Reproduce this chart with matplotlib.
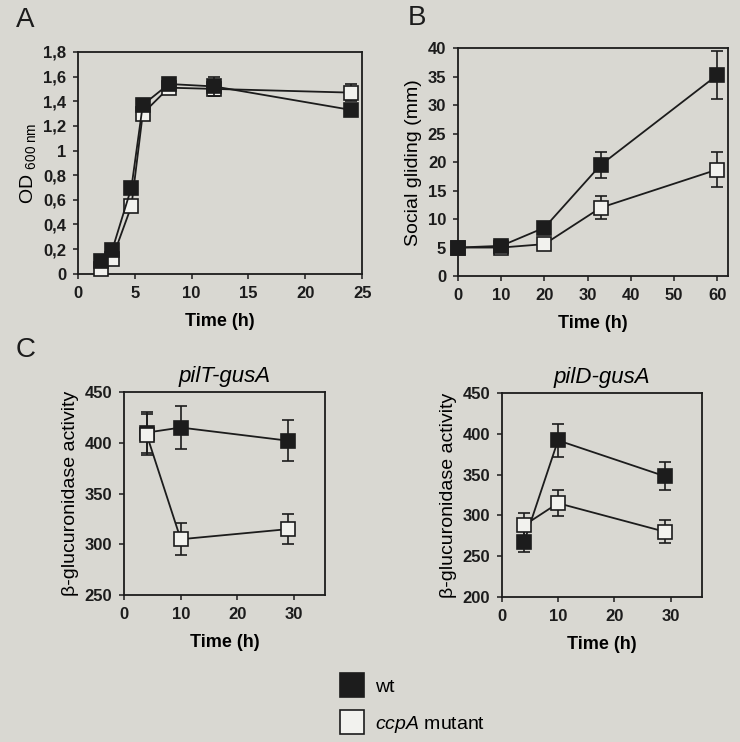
import numpy as np
import matplotlib.pyplot as plt
from matplotlib.lines import Line2D

plt.rcParams['font.family'] = ['Liberation Sans', 'DejaVu Sans']
plt.rcParams['mathtext.fontset'] = 'custom'
plt.rcParams['mathtext.rm'] = 'Liberation Sans'
plt.rcParams['mathtext.it'] = 'Liberation Sans:italic'
plt.rcParams['mathtext.bf'] = 'Liberation Sans:bold'

# Panel A: growth curve
time_a = [2, 3, 4.7, 5.7, 8, 12, 24]
od_wt = [0.10, 0.19, 0.70, 1.37, 1.54, 1.52, 1.33]
od_wt_err = [0.03, 0.03, 0.03, 0.04, 0.05, 0.08, 0.05]
od_ccpa = [0.04, 0.12, 0.55, 1.30, 1.51, 1.50, 1.47]
od_ccpa_err = [0.03, 0.03, 0.03, 0.04, 0.04, 0.06, 0.07]
od_ticks = [0, 0.2, 0.4, 0.6, 0.8, 1.0, 1.2, 1.4, 1.6, 1.8]
od_ticklabels = ['0', '0,2', '0,4', '0,6', '0,8', '1', '1,2', '1,4', '1,6', '1,8']

# Panel B: social gliding
time_b = [0, 10, 20, 33, 60]
glide_wt = [5.0, 5.3, 8.5, 19.5, 35.3]
glide_wt_err = [0.3, 0.4, 0.8, 2.3, 4.2]
glide_ccpa = [5.0, 5.0, 5.6, 12.0, 18.7]
glide_ccpa_err = [0.3, 0.3, 0.4, 2.0, 3.1]

# Panel C: reporter activity
time_c = [4, 10, 29]
pilT_wt = [410, 415, 402]
pilT_wt_err = [20, 21, 20]
pilT_ccpa = [408, 305, 315]
pilT_ccpa_err = [20, 16, 15]
pilD_wt = [268, 392, 348]
pilD_wt_err = [13, 20, 17]
pilD_ccpa = [288, 315, 280]
pilD_ccpa_err = [15, 16, 14]

BG = '#d9d8d2'
DARK = '#1c1c1c'
OPEN = '#f2f2ee'

fig = plt.figure(figsize=(7.4, 7.42), dpi=100, facecolor=BG)


def style_axes(ax):
    ax.set_facecolor(BG)
    for s in ax.spines.values():
        s.set_linewidth(1.3)
        s.set_color(DARK)
    ax.tick_params(direction='out', length=3.5, width=1.1, labelsize=12, colors=DARK, pad=5)
    for lab in ax.get_xticklabels() + ax.get_yticklabels():
        lab.set_fontweight('bold')


def draw_series(ax, x, y_wt, e_wt, y_cc, e_cc, ms=9.5, wt_on_top=True):
    z_wt, z_cc = (4, 3) if wt_on_top else (3, 4)
    ax.errorbar(x, y_cc, yerr=e_cc, color=DARK, lw=1.3, marker='s', ms=ms,
                mfc=OPEN, mec=DARK, mew=1.2, capsize=4, elinewidth=1.2,
                zorder=z_cc, clip_on=False)
    ax.errorbar(x, y_wt, yerr=e_wt, color=DARK, lw=1.3, marker='s', ms=ms,
                mfc=DARK, mec=DARK, mew=1.2, capsize=4, elinewidth=1.2,
                zorder=z_wt, clip_on=False)


# A
ax_a = fig.add_axes([0.1054, 0.631, 0.384, 0.299])
draw_series(ax_a, time_a, od_wt, od_wt_err, od_ccpa, od_ccpa_err, ms=10.5)
ax_a.set_xlim(0, 25)
ax_a.set_ylim(0, 1.8)
ax_a.set_xticks([0, 5, 10, 15, 20, 25])
ax_a.set_yticks(od_ticks)
ax_a.set_yticklabels(od_ticklabels)
ax_a.set_xlabel('Time (h)', fontsize=13, fontweight='bold', labelpad=9)
ax_a.set_ylabel('OD $_{\\mathregular{600\\ nm}}$', fontsize=14, labelpad=4)
style_axes(ax_a)

# B
ax_b = fig.add_axes([0.619, 0.628, 0.365, 0.307])
draw_series(ax_b, time_b, glide_wt, glide_wt_err, glide_ccpa, glide_ccpa_err)
ax_b.set_xlim(0, 62.5)
ax_b.set_ylim(0, 40)
ax_b.set_xticks([0, 10, 20, 30, 40, 50, 60])
ax_b.set_yticks([0, 5, 10, 15, 20, 25, 30, 35, 40])
ax_b.set_xlabel('Time (h)', fontsize=13, fontweight='bold', labelpad=9)
ax_b.set_ylabel('Social gliding (mm)', fontsize=14, labelpad=4)
style_axes(ax_b)

# C left
ax_c1 = fig.add_axes([0.1676, 0.198, 0.272, 0.2737])
draw_series(ax_c1, time_c, pilT_wt, pilT_wt_err, pilT_ccpa, pilT_ccpa_err, wt_on_top=False)
ax_c1.set_xlim(0, 35.5)
ax_c1.set_ylim(250, 450)
ax_c1.set_xticks([0, 10, 20, 30])
ax_c1.set_yticks([250, 300, 350, 400, 450])
ax_c1.set_xlabel('Time (h)', fontsize=13, fontweight='bold', labelpad=9)
ax_c1.set_ylabel('β-glucuronidase activity', fontsize=14, labelpad=4)
ax_c1.set_title('pilT-gusA', fontsize=16, style='italic', pad=7)
style_axes(ax_c1)

# C right
ax_c2 = fig.add_axes([0.678, 0.1954, 0.270, 0.2749])
draw_series(ax_c2, time_c, pilD_wt, pilD_wt_err, pilD_ccpa, pilD_ccpa_err, wt_on_top=False)
ax_c2.set_xlim(0, 35.5)
ax_c2.set_ylim(200, 450)
ax_c2.set_xticks([0, 10, 20, 30])
ax_c2.set_yticks([200, 250, 300, 350, 400, 450])
ax_c2.set_xlabel('Time (h)', fontsize=13, fontweight='bold', labelpad=9)
ax_c2.set_ylabel('β-glucuronidase activity', fontsize=14, labelpad=4)
ax_c2.set_title('pilD-gusA', fontsize=16, style='italic', pad=7)
style_axes(ax_c2)

# panel letters
fig.text(16 / 740, 1 - 20 / 742, 'A', fontsize=20, va='center', ha='left', color=DARK)
fig.text(408 / 740, 1 - 18 / 742, 'B', fontsize=20, va='center', ha='left', color=DARK)
fig.text(16 / 740, 1 - 350 / 742, 'C', fontsize=20, va='center', ha='left', color=DARK)

# legend
handles = [
    Line2D([], [], ls='none', marker='s', ms=17, mfc=DARK, mec=DARK, mew=1.2),
    Line2D([], [], ls='none', marker='s', ms=17, mfc=OPEN, mec=DARK, mew=1.2),
]
labels = ['wt', '$\\mathit{ccpA}$ mutant']
fig.legend(handles, labels, loc='upper left', bbox_to_anchor=(342 / 740, 1 - 678 / 742),
           frameon=False, fontsize=14, handlelength=1.0, handletextpad=0.7,
           labelspacing=0.95, borderaxespad=0, borderpad=0)

plt.savefig('out.png', dpi=100, facecolor=BG)
